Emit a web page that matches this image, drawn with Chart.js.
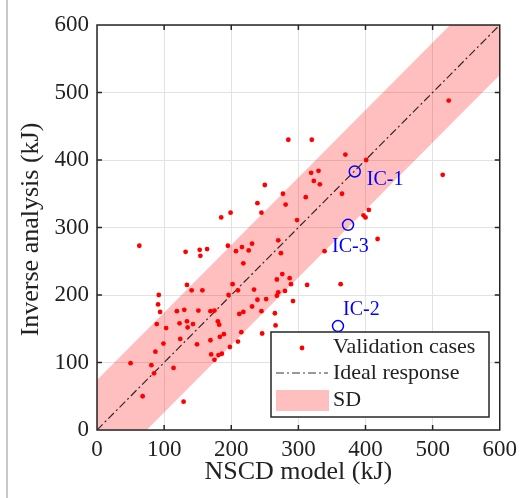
<!DOCTYPE html>
<html>
<head>
<meta charset="utf-8">
<script src="https://cdn.jsdelivr.net/npm/chart.js@4/dist/chart.umd.min.js"></script>
<style>
  body { margin: 0; background: #fff; }
</style>
</head>
<body>
<canvas id="scatterChart" width="523" height="498"></canvas>
<script>
// validation cases: NSCD model (x) vs inverse analysis (y), kJ
var caseX = [239, 281, 245, 199, 185, 298, 63, 132, 153, 164, 154, 195, 207, 216, 231, 226, 218, 270, 274, 276,
  268, 287, 289, 280, 270, 268, 292, 313, 134, 141, 157, 202, 210, 196, 234, 239, 252, 231, 245, 218,
  212, 265, 266, 246, 215, 210, 198, 92, 91, 94, 119, 130, 151, 169, 175, 89, 103, 123, 134, 135,
  143, 180, 182, 124, 99, 149, 169, 183, 189, 87, 170, 181, 186, 175, 50, 81, 85, 114, 68, 129,
  285, 250, 277, 311, 524, 320, 370, 401, 319, 330, 323, 332, 365, 515, 405, 400, 397, 418, 339, 363];
var caseY = [336, 334, 322, 322, 315, 311, 273, 264, 267, 268, 258, 273, 265, 271, 276, 266, 247, 281, 262, 231,
  223, 225, 216, 206, 204, 199, 191, 215, 215, 207, 207, 216, 207, 200, 208, 193, 194, 183, 176, 175,
  172, 173, 155, 143, 145, 131, 123, 200, 186, 175, 176, 178, 177, 176, 177, 157, 151, 158, 161, 152,
  157, 161, 156, 135, 128, 127, 133, 138, 142, 116, 112, 111, 113, 104, 99, 96, 84, 92, 50, 42,
  430, 363, 350, 345, 488, 430, 408, 400, 381, 384, 369, 364, 350, 378, 326, 315, 318, 283, 265, 216];

// highlighted cases
var icNames = ["IC-1", "IC-2", "IC-3"];
var icX = [384, 359, 374];
var icY = [383, 154, 304];

var sd = 74;
var axisMin = 0;
var axisMax = 600;
var tickValues = [0, 100, 200, 300, 400, 500, 600];

var casePoints = caseX.map((x, i) => ({ x: x, y: caseY[i] }));
var icPoints = icX.map((x, i) => ({ x: x, y: icY[i] }));
var idealPoints = [{ x: axisMin, y: axisMin }, { x: axisMax, y: axisMax }];
var bandPoints = [
  { x: axisMin, y: axisMin },
  { x: axisMin, y: axisMin + sd },
  { x: axisMax - sd, y: axisMax },
  { x: axisMax, y: axisMax },
  { x: axisMax, y: axisMax - sd },
  { x: axisMin + sd, y: axisMin },
];

var serif = "'Liberation Serif', 'DejaVu Serif', serif";
var bandColor = "rgba(255, 0, 0, 0.25)";
var idealColor = "rgba(0, 0, 0, 0.8)";
var idealDash = [8, 3, 2, 3];

// frame, inward ticks, titles, IC labels and legend box
var decorations = {
  id: "decorations",
  afterDraw(chart) {
    var ctx = chart.ctx;
    var area = chart.chartArea;
    var xs = chart.scales.x;
    var ys = chart.scales.y;
    ctx.save();

    ctx.strokeStyle = "#c8c8c8";
    ctx.lineWidth = 2;
    ctx.beginPath();
    ctx.moveTo(7, 0);
    ctx.lineTo(7, chart.height);
    ctx.stroke();

    ctx.strokeStyle = "#262626";
    ctx.lineWidth = 1.5;
    ctx.strokeRect(area.left, area.top, area.right - area.left, area.bottom - area.top);
    ctx.beginPath();
    tickValues.slice(1, -1).forEach((v) => {
      var px = xs.getPixelForValue(v);
      var py = ys.getPixelForValue(v);
      ctx.moveTo(px, area.bottom); ctx.lineTo(px, area.bottom - 5);
      ctx.moveTo(px, area.top); ctx.lineTo(px, area.top + 5);
      ctx.moveTo(area.left, py); ctx.lineTo(area.left + 5, py);
      ctx.moveTo(area.right, py); ctx.lineTo(area.right - 5, py);
    });
    ctx.stroke();

    // axis titles
    ctx.fillStyle = "#222";
    ctx.font = "26px " + serif;
    ctx.textAlign = "center";
    ctx.textBaseline = "middle";
    ctx.fillText("NSCD model (kJ)", (area.left + area.right) / 2, 472);
    ctx.save();
    ctx.translate(31, (area.top + area.bottom) / 2 + 2);
    ctx.rotate(-Math.PI / 2);
    ctx.fillText("Inverse analysis (kJ)", 0, 0);
    ctx.restore();

    // IC labels
    var offsets = [[12, 8], [5, -16], [-16, 22]];
    ctx.fillStyle = "blue";
    ctx.font = "20px " + serif;
    ctx.textAlign = "left";
    icNames.forEach((name, i) => {
      var px = xs.getPixelForValue(icX[i]);
      var py = ys.getPixelForValue(icY[i]);
      ctx.fillText(name, px + offsets[i][0], py + offsets[i][1]);
    });

    // legend
    var lx = 271, ly = 332, lw = 218, lh = 85;
    ctx.fillStyle = "#fff";
    ctx.fillRect(lx, ly, lw, lh);
    ctx.strokeStyle = "#262626";
    ctx.lineWidth = 1.5;
    ctx.strokeRect(lx, ly, lw, lh);

    ctx.fillStyle = "red";
    ctx.beginPath();
    ctx.arc(302, 348, 2.4, 0, Math.PI * 2);
    ctx.fill();

    ctx.strokeStyle = idealColor;
    ctx.lineWidth = 1.2;
    ctx.setLineDash(idealDash);
    ctx.beginPath();
    ctx.moveTo(276, 373);
    ctx.lineTo(328, 373);
    ctx.stroke();
    ctx.setLineDash([]);

    ctx.fillStyle = bandColor;
    ctx.fillRect(276, 390, 53, 21);

    ctx.fillStyle = "#222";
    ctx.font = "22px " + serif;
    ctx.fillText("Validation cases", 333, 347);
    ctx.fillText("Ideal response", 333, 373);
    ctx.fillText("SD", 333, 400);

    ctx.restore();
  },
};

var ctx = document.getElementById("scatterChart").getContext("2d");

var chart = new Chart(ctx, {
  type: "scatter",
  data: {
    datasets: [
      {
        label: "IC",
        data: icPoints,
        pointRadius: 5.5,
        pointBorderWidth: 1.5,
        pointBorderColor: "blue",
        pointBackgroundColor: "rgba(0,0,0,0)",
        order: 0,
      },
      {
        label: "Validation cases",
        data: casePoints,
        pointRadius: 2.4,
        pointBorderWidth: 0,
        pointBackgroundColor: "red",
        order: 1,
      },
      {
        label: "Ideal response",
        data: idealPoints,
        showLine: true,
        pointRadius: 0,
        borderColor: idealColor,
        borderWidth: 1.2,
        borderDash: idealDash,
        order: 2,
      },
      {
        label: "SD",
        data: bandPoints,
        showLine: true,
        pointRadius: 0,
        borderWidth: 0,
        borderColor: "rgba(0,0,0,0)",
        backgroundColor: bandColor,
        fill: "shape",
        order: 3,
      },
    ],
  },
  options: {
    responsive: false,
    animation: false,
    layout: { padding: { left: 0, right: 22, top: 25, bottom: 0 } },
    plugins: {
      legend: { display: false },
      tooltip: { enabled: false },
    },
    scales: {
      x: {
        type: "linear",
        min: axisMin,
        max: axisMax,
        afterFit: (scale) => { scale.height = 68; },
        afterBuildTicks: (scale) => { scale.ticks = tickValues.map((v) => ({ value: v })); },
        grid: { color: "#e2e2e2", drawTicks: false },
        border: { display: false },
        ticks: { color: "#222", padding: 6, font: { family: serif, size: 23 } },
      },
      y: {
        type: "linear",
        min: axisMin,
        max: axisMax,
        afterFit: (scale) => { scale.width = 97; },
        afterBuildTicks: (scale) => { scale.ticks = tickValues.map((v) => ({ value: v })); },
        grid: { color: "#e2e2e2", drawTicks: false },
        border: { display: false },
        ticks: { color: "#222", padding: 8, font: { family: serif, size: 23 } },
      },
    },
  },
  plugins: [decorations],
});
</script>
</body>
</html>
